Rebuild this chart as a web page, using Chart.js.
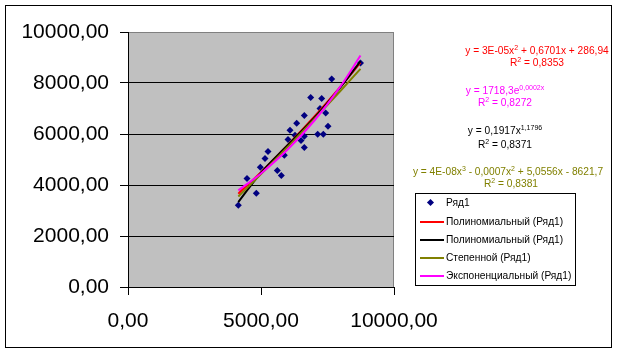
<!DOCTYPE html>
<html>
<head>
<meta charset="utf-8">
<script src="https://cdn.jsdelivr.net/npm/chart.js@4"></script>
<style>
  body { margin: 0; background: #fff; }
  #wrap { position: relative; width: 617px; height: 354px; font-family: "Liberation Sans", Arial, sans-serif; }
  canvas { position: absolute; left: 0; top: 0; }
  .eq { position: absolute; font-size: 10.2px; line-height: 12px; white-space: nowrap; transform: translate(-50%, -50%); }
  .eq sup { font-size: 7px; vertical-align: 4px; line-height: 0; }
  #legend { position: absolute; left: 415px; top: 193px; width: 159px; height: 91px; border: 1px solid #000; background: #fff; }
  .item { position: absolute; left: 0; height: 14px; font-size: 10.2px; line-height: 14px; white-space: nowrap; }
  .item .swatch { position: absolute; left: 4px; top: 6px; width: 24px; height: 2px; }
  .item .dot { position: absolute; left: 12px; top: 4px; width: 5px; height: 5px; background: #000080; transform: rotate(45deg); }
  .item span { position: absolute; left: 30px; top: 0; }
</style>
</head>
<body>
<div id="wrap">
  <canvas id="chart" width="617" height="354"></canvas>
  <div class="eq" style="left:537px; top:51px; color:#ff0000;">y = 3E-05x<sup>2</sup> + 0,6701x + 286,94</div>
  <div class="eq" style="left:537px; top:63px; color:#ff0000;">R<sup>2</sup> = 0,8353</div>
  <div class="eq" style="left:505px; top:91px; color:#ff00ff;">y = 1718,3e<sup>0,0002x</sup></div>
  <div class="eq" style="left:505px; top:103px; color:#ff00ff;">R<sup>2</sup> = 0,8272</div>
  <div class="eq" style="left:505px; top:131px; color:#000;">y = 0,1917x<sup>1,1796</sup></div>
  <div class="eq" style="left:505px; top:145px; color:#000;">R<sup>2</sup> = 0,8371</div>
  <div class="eq" style="left:508px; top:172px; color:#808000;">y = 4E-08x<sup>3</sup> - 0,0007x<sup>2</sup> + 5,0556x - 8621,7</div>
  <div class="eq" style="left:511px; top:184px; color:#808000;">R<sup>2</sup> = 0,8381</div>
  <div id="legend"></div>
</div>
<script>
// Data
const xValues = [4147, 4474, 4823, 4974, 5150, 5263, 5613, 5763, 5876, 6015, 6090, 6278, 6342,
  6504, 6628, 6628, 6628, 6868, 7132, 7218, 7282, 7342, 7432, 7519, 7658, 8740];
const yValues = [3205, 4254, 3676, 4698, 5039, 5314, 4568, 4372, 5169, 5786, 6151, 5954, 6426,
  5746, 5915, 5471, 6728, 7435, 5994, 7003, 7396, 5994, 6819, 6308, 8154, 8780];

// Trendlines
const trendX = [4147, 5000, 6000, 7000, 8000, 8740];
const polyY2 = [3660, 4505, 5557, 6678, 7869, 8795];
const polyY3 = [3330, 4480, 5560, 6630, 7850, 8860];
const powerY = [3550, 4426, 5488, 6585, 7707, 8555];
const expY = [3790, 4454, 5389, 6520, 7887, 9080];

const seriesName = 'Ряд1';
const legendLabels = [seriesName, 'Полиномиальный (Ряд1)', 'Полиномиальный (Ряд1)', 'Степенной (Ряд1)', 'Экспоненциальный (Ряд1)'];
const trendColors = ['#ff0000', '#000000', '#808000', '#ff00ff'];

const toPoints = (xs, ys) => xs.map((x, i) => ({ x: x, y: ys[i] }));
const fmt = (v) => Number(v).toFixed(2).replace('.', ',');

// Background, frame and plot area
const frame = {
  id: 'frame',
  beforeDraw(chart) {
    const ctx = chart.ctx;
    const a = chart.chartArea;
    ctx.save();
    ctx.fillStyle = '#fff';
    ctx.fillRect(0, 0, chart.width, chart.height);
    ctx.strokeStyle = '#000';
    ctx.lineWidth = 1;
    ctx.strokeRect(5.5, 5.5, 606, 342);
    ctx.fillStyle = '#c0c0c0';
    ctx.fillRect(a.left, a.top, a.right - a.left, a.bottom - a.top);
    ctx.strokeStyle = '#808080';
    ctx.strokeRect(a.left + 0.5, a.top + 0.5, a.right - a.left - 1, a.bottom - a.top);
    ctx.restore();
  }
};

const trendSet = (label, ys, color, order) => ({
  type: 'line',
  label: label,
  data: toPoints(trendX, ys),
  borderColor: color,
  borderWidth: 2,
  pointRadius: 0,
  tension: 0.35,
  fill: false,
  order: order
});

const chart = new Chart(document.getElementById('chart'), {
  type: 'scatter',
  data: {
    datasets: [
      {
        label: seriesName,
        data: toPoints(xValues, yValues),
        pointStyle: 'rectRot',
        pointRadius: 3.5,
        backgroundColor: '#000080',
        borderColor: '#000080',
        borderWidth: 0,
        order: 5
      },
      trendSet(legendLabels[1], polyY2, trendColors[0], 4),
      trendSet(legendLabels[2], polyY3, trendColors[1], 3),
      trendSet(legendLabels[3], powerY, trendColors[2], 2),
      trendSet(legendLabels[4], expY, trendColors[3], 1)
    ]
  },
  options: {
    responsive: false,
    animation: false,
    devicePixelRatio: 1,
    layout: { padding: { left: 0, top: 32, right: 223, bottom: 0 } },
    plugins: { legend: { display: false }, tooltip: { enabled: false } },
    scales: {
      x: {
        type: 'linear',
        min: 0,
        max: 10000,
        ticks: { stepSize: 5000, color: '#000', padding: 14, maxRotation: 0,
          font: { family: 'Liberation Sans', size: 21 }, callback: fmt },
        grid: { drawOnChartArea: false, drawTicks: true, tickLength: 8, tickColor: '#000' },
        border: { display: true, color: '#000', width: 1 },
        afterFit(scale) { scale.height = 67; }
      },
      y: {
        type: 'linear',
        min: 0,
        max: 10000,
        ticks: { stepSize: 2000, color: '#000', padding: 11,
          font: { family: 'Liberation Sans', size: 21 }, callback: fmt },
        grid: {
          color: (c) => (c.tick && c.tick.value === 10000 ? '#808080' : '#000'),
          tickColor: '#000',
          tickLength: 8,
          lineWidth: 1
        },
        border: { display: true, color: '#000', width: 1 },
        afterFit(scale) { scale.width = 128; }
      }
    }
  },
  plugins: [frame]
});

// Legend
const legend = document.getElementById('legend');
const rowTops = [4, 23, 41, 59, 77];
legendLabels.forEach((label, i) => {
  const row = document.createElement('div');
  row.className = 'item';
  row.style.top = (rowTops[i] - 2) + 'px';
  if (i === 0) {
    row.innerHTML = '<div class="dot"></div>';
  } else {
    row.innerHTML = `<div class="swatch" style="background:${trendColors[i - 1]}"></div>`;
  }
  const text = document.createElement('span');
  text.textContent = label;
  row.appendChild(text);
  legend.appendChild(row);
});
</script>
</body>
</html>
